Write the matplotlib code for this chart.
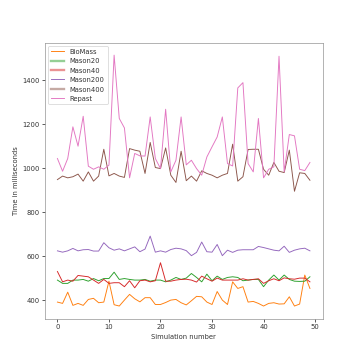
import matplotlib
matplotlib.use("Agg")
import matplotlib.pyplot as plt
import numpy as np

sim = np.arange(50)

biomass = [391, 385, 436, 376, 385, 376, 403, 408, 388, 391,
           486, 379, 373, 400, 426, 406, 392, 411, 411, 380,
           380, 389, 400, 403, 388, 378, 397, 417, 415, 391,
           380, 439, 400, 380, 483, 453, 461, 391, 394, 385,
           373, 385, 388, 382, 383, 415, 373, 382, 514, 453]

mason20 = [491, 476, 476, 491, 491, 494, 486, 498, 488, 498,
           498, 527, 494, 498, 494, 491, 491, 494, 486, 491,
           491, 483, 491, 503, 494, 500, 521, 503, 483, 518,
           488, 509, 494, 503, 506, 503, 488, 491, 494, 494,
           461, 491, 514, 491, 514, 494, 486, 485, 486, 506]

mason40 = [530, 483, 491, 486, 512, 509, 506, 491, 476, 494,
           476, 479, 479, 461, 488, 456, 488, 491, 483, 488,
           570, 486, 486, 491, 494, 495, 491, 482, 509, 497,
           486, 500, 491, 491, 491, 491, 497, 491, 494, 497,
           476, 488, 497, 488, 501, 497, 495, 500, 500, 483]

mason200 = [624, 618, 624, 635, 624, 629, 630, 623, 623, 661,
            638, 627, 633, 624, 633, 642, 620, 632, 691, 618,
            624, 618, 630, 636, 633, 625, 602, 617, 664, 620,
            618, 653, 602, 627, 617, 627, 629, 629, 629, 644,
            639, 633, 627, 624, 645, 617, 627, 633, 636, 624]

mason400 = [948, 964, 956, 961, 973, 941, 983, 941, 964, 1086,
            965, 976, 964, 958, 1089, 1082, 1077, 976, 1117, 1003,
            998, 1092, 968, 935, 1077, 943, 964, 941, 988, 976,
            968, 956, 968, 976, 1109, 941, 961, 1085, 1086, 1086,
            995, 968, 1026, 986, 980, 1082, 895, 979, 976, 945]

repast = [1044, 986, 1044, 1188, 1100, 1236, 1009, 995, 1006, 995,
          1014, 1514, 1226, 1183, 956, 1067, 1056, 1055, 1233, 1044,
          998, 1268, 983, 1036, 1233, 1015, 1036, 998, 968, 1051,
          1097, 1142, 1233, 1021, 1010, 1365, 1389, 1021, 983, 1226,
          956, 995, 1006, 1509, 983, 1153, 1147, 995, 989, 1026]

series = [
    ("BioMass", biomass, "#ff7f0e", False),
    ("Mason20", mason20, "#2ca02c", True),
    ("Mason40", mason40, "#d62728", True),
    ("Mason200", mason200, "#9467bd", False),
    ("Mason400", mason400, "#8c564b", True),
    ("Repast", repast, "#e377c2", False),
]

plt.rcParams["font.size"] = 8.7
plt.rcParams["text.color"] = "#333333"
plt.rcParams["axes.labelcolor"] = "#333333"
plt.rcParams["xtick.labelcolor"] = "#333333"
plt.rcParams["ytick.labelcolor"] = "#333333"
plt.rcParams["axes.edgecolor"] = "#888888"

fig = plt.figure(figsize=(6.4, 6.4), dpi=56)
ax = fig.add_subplot(111)
for name, vals, col, _ in series:
    ax.plot(sim, vals, color=col, label=name, lw=1.2)

ax.set_xlabel("Simulation number")
ax.set_ylabel("Time in milliseconds")
leg = ax.legend(loc="upper left")
for (name, vals, col, light), line in zip(series, leg.get_lines()):
    if light:
        line.set_linewidth(3)
        line.set_alpha(0.5)

fig.savefig("out.png", dpi=56)
